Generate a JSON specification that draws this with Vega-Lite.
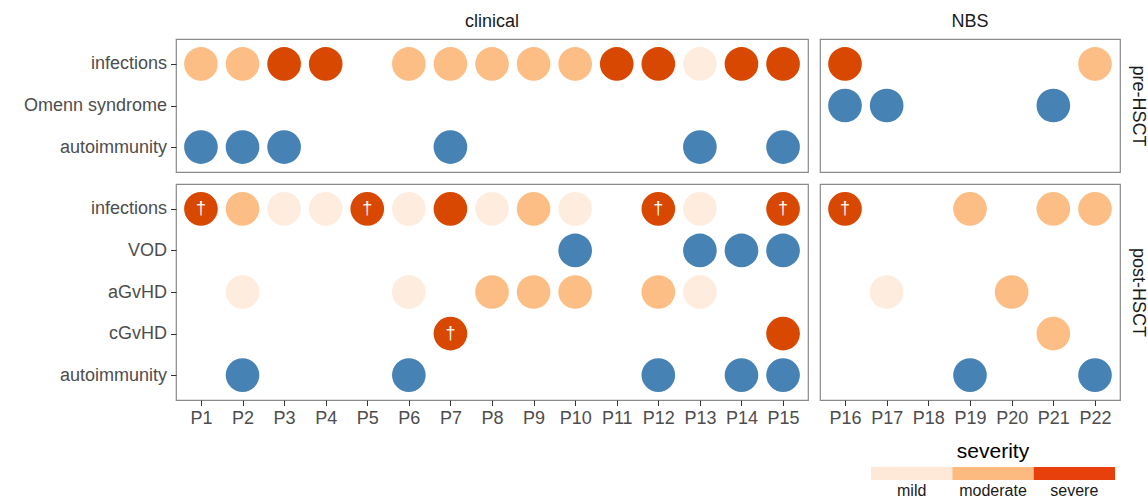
{
  "$schema": "https://vega.github.io/schema/vega-lite/v6.json",
  "padding": {"left": 22, "top": 12, "right": 5, "bottom": 5},
  "background": "white",
  "data": {"values": [
    {"patient":"P1","cohort":"clinical","phase":"pre-HSCT","event":"infections","severity":"moderate","death":false},
    {"patient":"P2","cohort":"clinical","phase":"pre-HSCT","event":"infections","severity":"moderate","death":false},
    {"patient":"P3","cohort":"clinical","phase":"pre-HSCT","event":"infections","severity":"severe","death":false},
    {"patient":"P4","cohort":"clinical","phase":"pre-HSCT","event":"infections","severity":"severe","death":false},
    {"patient":"P6","cohort":"clinical","phase":"pre-HSCT","event":"infections","severity":"moderate","death":false},
    {"patient":"P7","cohort":"clinical","phase":"pre-HSCT","event":"infections","severity":"moderate","death":false},
    {"patient":"P8","cohort":"clinical","phase":"pre-HSCT","event":"infections","severity":"moderate","death":false},
    {"patient":"P9","cohort":"clinical","phase":"pre-HSCT","event":"infections","severity":"moderate","death":false},
    {"patient":"P10","cohort":"clinical","phase":"pre-HSCT","event":"infections","severity":"moderate","death":false},
    {"patient":"P11","cohort":"clinical","phase":"pre-HSCT","event":"infections","severity":"severe","death":false},
    {"patient":"P12","cohort":"clinical","phase":"pre-HSCT","event":"infections","severity":"severe","death":false},
    {"patient":"P13","cohort":"clinical","phase":"pre-HSCT","event":"infections","severity":"mild","death":false},
    {"patient":"P14","cohort":"clinical","phase":"pre-HSCT","event":"infections","severity":"severe","death":false},
    {"patient":"P15","cohort":"clinical","phase":"pre-HSCT","event":"infections","severity":"severe","death":false},
    {"patient":"P1","cohort":"clinical","phase":"pre-HSCT","event":"autoimmunity","severity":"none","death":false},
    {"patient":"P2","cohort":"clinical","phase":"pre-HSCT","event":"autoimmunity","severity":"none","death":false},
    {"patient":"P3","cohort":"clinical","phase":"pre-HSCT","event":"autoimmunity","severity":"none","death":false},
    {"patient":"P7","cohort":"clinical","phase":"pre-HSCT","event":"autoimmunity","severity":"none","death":false},
    {"patient":"P13","cohort":"clinical","phase":"pre-HSCT","event":"autoimmunity","severity":"none","death":false},
    {"patient":"P15","cohort":"clinical","phase":"pre-HSCT","event":"autoimmunity","severity":"none","death":false},
    {"patient":"P16","cohort":"NBS","phase":"pre-HSCT","event":"infections","severity":"severe","death":false},
    {"patient":"P22","cohort":"NBS","phase":"pre-HSCT","event":"infections","severity":"moderate","death":false},
    {"patient":"P16","cohort":"NBS","phase":"pre-HSCT","event":"Omenn syndrome","severity":"none","death":false},
    {"patient":"P17","cohort":"NBS","phase":"pre-HSCT","event":"Omenn syndrome","severity":"none","death":false},
    {"patient":"P21","cohort":"NBS","phase":"pre-HSCT","event":"Omenn syndrome","severity":"none","death":false},
    {"patient":"P1","cohort":"clinical","phase":"post-HSCT","event":"infections","severity":"severe","death":true},
    {"patient":"P2","cohort":"clinical","phase":"post-HSCT","event":"infections","severity":"moderate","death":false},
    {"patient":"P3","cohort":"clinical","phase":"post-HSCT","event":"infections","severity":"mild","death":false},
    {"patient":"P4","cohort":"clinical","phase":"post-HSCT","event":"infections","severity":"mild","death":false},
    {"patient":"P5","cohort":"clinical","phase":"post-HSCT","event":"infections","severity":"severe","death":true},
    {"patient":"P6","cohort":"clinical","phase":"post-HSCT","event":"infections","severity":"mild","death":false},
    {"patient":"P7","cohort":"clinical","phase":"post-HSCT","event":"infections","severity":"severe","death":false},
    {"patient":"P8","cohort":"clinical","phase":"post-HSCT","event":"infections","severity":"mild","death":false},
    {"patient":"P9","cohort":"clinical","phase":"post-HSCT","event":"infections","severity":"moderate","death":false},
    {"patient":"P10","cohort":"clinical","phase":"post-HSCT","event":"infections","severity":"mild","death":false},
    {"patient":"P12","cohort":"clinical","phase":"post-HSCT","event":"infections","severity":"severe","death":true},
    {"patient":"P13","cohort":"clinical","phase":"post-HSCT","event":"infections","severity":"mild","death":false},
    {"patient":"P15","cohort":"clinical","phase":"post-HSCT","event":"infections","severity":"severe","death":true},
    {"patient":"P10","cohort":"clinical","phase":"post-HSCT","event":"VOD","severity":"none","death":false},
    {"patient":"P13","cohort":"clinical","phase":"post-HSCT","event":"VOD","severity":"none","death":false},
    {"patient":"P14","cohort":"clinical","phase":"post-HSCT","event":"VOD","severity":"none","death":false},
    {"patient":"P15","cohort":"clinical","phase":"post-HSCT","event":"VOD","severity":"none","death":false},
    {"patient":"P2","cohort":"clinical","phase":"post-HSCT","event":"aGvHD","severity":"mild","death":false},
    {"patient":"P6","cohort":"clinical","phase":"post-HSCT","event":"aGvHD","severity":"mild","death":false},
    {"patient":"P8","cohort":"clinical","phase":"post-HSCT","event":"aGvHD","severity":"moderate","death":false},
    {"patient":"P9","cohort":"clinical","phase":"post-HSCT","event":"aGvHD","severity":"moderate","death":false},
    {"patient":"P10","cohort":"clinical","phase":"post-HSCT","event":"aGvHD","severity":"moderate","death":false},
    {"patient":"P12","cohort":"clinical","phase":"post-HSCT","event":"aGvHD","severity":"moderate","death":false},
    {"patient":"P13","cohort":"clinical","phase":"post-HSCT","event":"aGvHD","severity":"mild","death":false},
    {"patient":"P7","cohort":"clinical","phase":"post-HSCT","event":"cGvHD","severity":"severe","death":true},
    {"patient":"P15","cohort":"clinical","phase":"post-HSCT","event":"cGvHD","severity":"severe","death":false},
    {"patient":"P2","cohort":"clinical","phase":"post-HSCT","event":"autoimmunity","severity":"none","death":false},
    {"patient":"P6","cohort":"clinical","phase":"post-HSCT","event":"autoimmunity","severity":"none","death":false},
    {"patient":"P12","cohort":"clinical","phase":"post-HSCT","event":"autoimmunity","severity":"none","death":false},
    {"patient":"P14","cohort":"clinical","phase":"post-HSCT","event":"autoimmunity","severity":"none","death":false},
    {"patient":"P15","cohort":"clinical","phase":"post-HSCT","event":"autoimmunity","severity":"none","death":false},
    {"patient":"P16","cohort":"NBS","phase":"post-HSCT","event":"infections","severity":"severe","death":true},
    {"patient":"P19","cohort":"NBS","phase":"post-HSCT","event":"infections","severity":"moderate","death":false},
    {"patient":"P21","cohort":"NBS","phase":"post-HSCT","event":"infections","severity":"moderate","death":false},
    {"patient":"P22","cohort":"NBS","phase":"post-HSCT","event":"infections","severity":"moderate","death":false},
    {"patient":"P17","cohort":"NBS","phase":"post-HSCT","event":"aGvHD","severity":"mild","death":false},
    {"patient":"P20","cohort":"NBS","phase":"post-HSCT","event":"aGvHD","severity":"moderate","death":false},
    {"patient":"P21","cohort":"NBS","phase":"post-HSCT","event":"cGvHD","severity":"moderate","death":false},
    {"patient":"P19","cohort":"NBS","phase":"post-HSCT","event":"autoimmunity","severity":"none","death":false},
    {"patient":"P22","cohort":"NBS","phase":"post-HSCT","event":"autoimmunity","severity":"none","death":false}
  ]},
  "spacing": 12,
  "resolve": {"scale": {"x": "independent", "y": "independent", "color": "independent"}},
  "vconcat": [
    {
      "spacing": 10,
      "resolve": {"scale": {"x": "independent", "y": "independent", "color": "independent"}},
      "vconcat": [
        {
          "spacing": 10,
          "resolve": {"scale": {"x": "independent", "y": "independent", "color": "independent"}},
          "hconcat": [
            {
              "width": 632, "height": 133,
              "title": {"text": "clinical"},
              "transform": [{"filter": "datum.cohort === 'clinical' && datum.phase === 'pre-HSCT'"}],
              "encoding": {
                "x": {"field": "patient", "type": "nominal", "scale": {"type": "point", "padding": 0.6, "domain": ["P1","P2","P3","P4","P5","P6","P7","P8","P9","P10","P11","P12","P13","P14","P15"]}, "axis": null},
                "y": {"field": "event", "type": "nominal", "scale": {"type": "point", "padding": 0.6, "domain": ["infections","Omenn syndrome","autoimmunity"]}, "axis": {"title": null}}
              },
              "layer": [
                {"mark": {"type": "circle", "size": 1134, "opacity": 1},
                 "encoding": {"color": {"field": "severity", "type": "nominal", "scale": {"domain": ["mild","moderate","severe","none"], "range": ["#FEEDDE","#FDBE85","#D94801","#4682B4"]}, "legend": null}}},
                {"transform": [{"filter": "datum.death"}], "mark": {"type": "text", "text": "†", "color": "white", "fontSize": 18}, "encoding": {}}
              ]
            },
            {
              "width": 300, "height": 133,
              "title": {"text": "NBS"},
              "transform": [{"filter": "datum.cohort === 'NBS' && datum.phase === 'pre-HSCT'"}],
              "encoding": {
                "x": {"field": "patient", "type": "nominal", "scale": {"type": "point", "padding": 0.6, "domain": ["P16","P17","P18","P19","P20","P21","P22"]}, "axis": null},
                "y": {"field": "event", "type": "nominal", "scale": {"type": "point", "padding": 0.6, "domain": ["infections","Omenn syndrome","autoimmunity"]}, "axis": {"orient": "right", "title": "pre-HSCT", "labels": false, "ticks": false, "titleAngle": 90, "titleFontSize": 18, "titleColor": "#1A1A1A", "titlePadding": 8, "titleFontWeight": "normal"}}
              },
              "layer": [
                {"mark": {"type": "circle", "size": 1134, "opacity": 1},
                 "encoding": {"color": {"field": "severity", "type": "nominal", "scale": {"domain": ["mild","moderate","severe","none"], "range": ["#FEEDDE","#FDBE85","#D94801","#4682B4"]}, "legend": null}}},
                {"transform": [{"filter": "datum.death"}], "mark": {"type": "text", "text": "†", "color": "white", "fontSize": 18}, "encoding": {}}
              ]
            }
          ]
        },
        {
          "spacing": 10,
          "resolve": {"scale": {"x": "independent", "y": "independent", "color": "independent"}},
          "hconcat": [
            {
              "width": 632, "height": 216,
              "transform": [{"filter": "datum.cohort === 'clinical' && datum.phase === 'post-HSCT'"}],
              "encoding": {
                "x": {"field": "patient", "type": "nominal", "scale": {"type": "point", "padding": 0.6, "domain": ["P1","P2","P3","P4","P5","P6","P7","P8","P9","P10","P11","P12","P13","P14","P15"]}, "axis": {"title": null, "labelAngle": 0}},
                "y": {"field": "event", "type": "nominal", "scale": {"type": "point", "padding": 0.6, "domain": ["infections","VOD","aGvHD","cGvHD","autoimmunity"]}, "axis": {"title": null}}
              },
              "layer": [
                {"mark": {"type": "circle", "size": 1134, "opacity": 1},
                 "encoding": {"color": {"field": "severity", "type": "nominal", "scale": {"domain": ["mild","moderate","severe","none"], "range": ["#FEEDDE","#FDBE85","#D94801","#4682B4"]}, "legend": null}}},
                {"transform": [{"filter": "datum.death"}], "mark": {"type": "text", "text": "†", "color": "white", "fontSize": 18}, "encoding": {}}
              ]
            },
            {
              "width": 300, "height": 216,
              "transform": [{"filter": "datum.cohort === 'NBS' && datum.phase === 'post-HSCT'"}],
              "encoding": {
                "x": {"field": "patient", "type": "nominal", "scale": {"type": "point", "padding": 0.6, "domain": ["P16","P17","P18","P19","P20","P21","P22"]}, "axis": {"title": null, "labelAngle": 0}},
                "y": {"field": "event", "type": "nominal", "scale": {"type": "point", "padding": 0.6, "domain": ["infections","VOD","aGvHD","cGvHD","autoimmunity"]}, "axis": {"orient": "right", "title": "post-HSCT", "labels": false, "ticks": false, "titleAngle": 90, "titleFontSize": 18, "titleColor": "#1A1A1A", "titlePadding": 8, "titleFontWeight": "normal"}}
              },
              "layer": [
                {"mark": {"type": "circle", "size": 1134, "opacity": 1},
                 "encoding": {"color": {"field": "severity", "type": "nominal", "scale": {"domain": ["mild","moderate","severe","none"], "range": ["#FEEDDE","#FDBE85","#D94801","#4682B4"]}, "legend": null}}},
                {"transform": [{"filter": "datum.death"}], "mark": {"type": "text", "text": "†", "color": "white", "fontSize": 18}, "encoding": {}}
              ]
            }
          ]
        }
      ]
    },
    {
      "spacing": 0,
      "resolve": {"scale": {"x": "independent", "y": "independent", "color": "independent"}},
      "hconcat": [
        {
          "width": 695, "height": 13,
          "view": {"stroke": null},
          "data": {"values": []},
          "mark": "point",
          "encoding": {}
        },
        {
          "width": 244, "height": 13,
          "view": {"stroke": null},
          "title": {"text": "severity", "fontSize": 21, "anchor": "middle", "offset": 5, "color": "#000000"},
          "data": {"values": [{"severity": "mild"}, {"severity": "moderate"}, {"severity": "severe"}]},
          "mark": {"type": "rect"},
          "encoding": {
            "x": {"field": "severity", "type": "nominal", "scale": {"type": "band", "paddingInner": 0, "paddingOuter": 0, "domain": ["mild","moderate","severe"]}, "axis": {"title": null, "ticks": false, "labelFontSize": 16, "labelColor": "#1A1A1A", "labelPadding": 2, "labelAngle": 0}},
            "color": {"field": "severity", "type": "nominal", "scale": {"domain": ["mild","moderate","severe"], "range": ["#FEE9D8","#FDBA80","#E8400C"]}, "legend": null}
          }
        }
      ]
    }
  ],
  "config": {
    "font": "Liberation Sans",
    "view": {"stroke": "#8a8a8a", "strokeWidth": 1.2},
    "axis": {"labelFontSize": 18, "labelColor": "#4D4D4D", "tickColor": "#333333", "tickSize": 5.5, "labelPadding": 4, "domain": false, "grid": false, "titleFontWeight": "normal"},
    "title": {"fontSize": 18, "fontWeight": "normal", "color": "#1A1A1A", "offset": 8}
  }
}
